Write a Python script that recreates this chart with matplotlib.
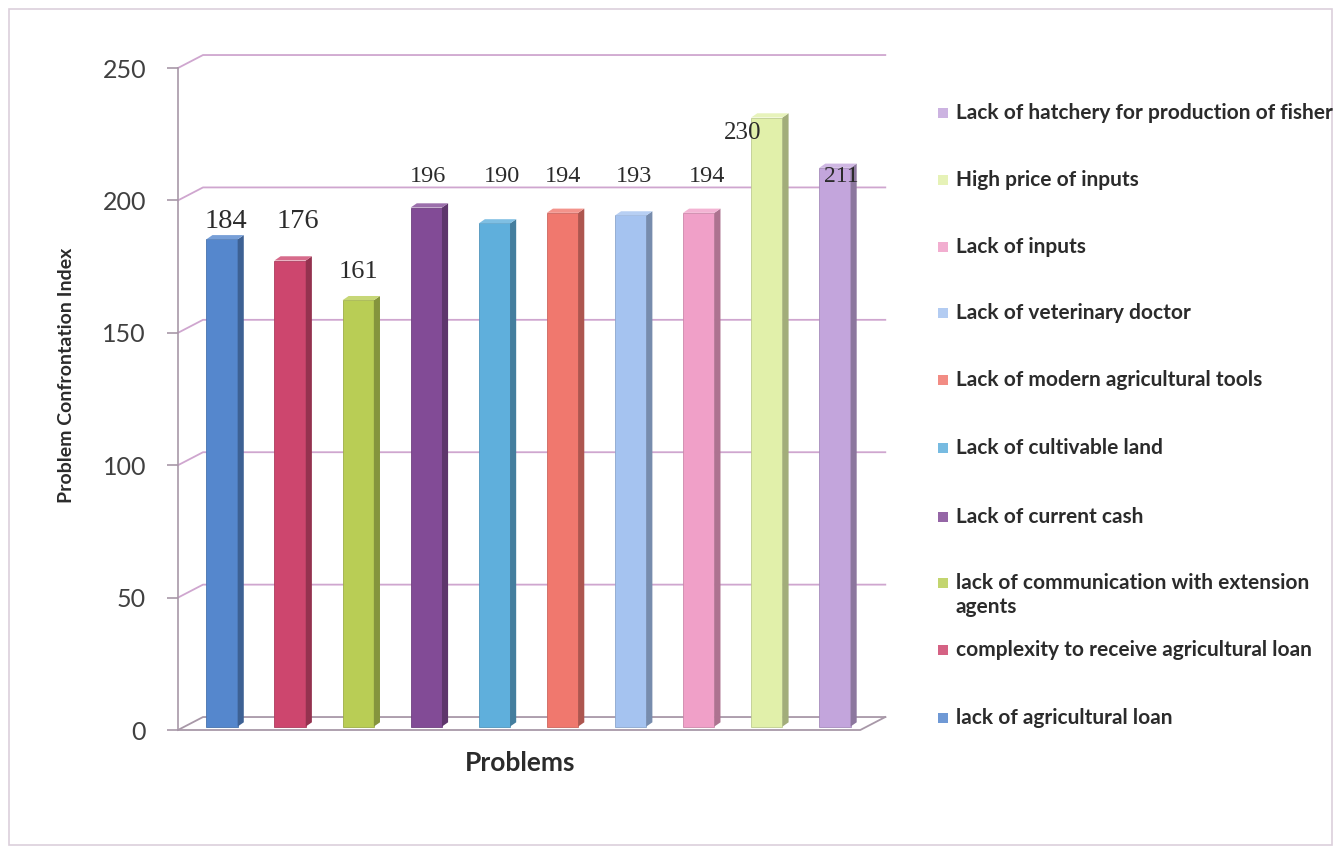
import matplotlib
matplotlib.use("Agg")
import matplotlib.pyplot as plt
from matplotlib.patches import Polygon, Rectangle

# data
problems = [
    "lack of agricultural loan",
    "complexity to receive agricultural loan",
    "lack of communication with extension\nagents",
    "Lack of current cash",
    "Lack of cultivable land",
    "Lack of modern agricultural tools",
    "Lack of veterinary doctor",
    "Lack of inputs",
    "High price of inputs",
    "Lack of hatchery for production of fisher",  # cut like the source
]
pci = [184, 176, 161, 196, 190, 194, 193, 194, 230, 211]
yticks = [0, 50, 100, 150, 200, 250]

# style
colors = ["#5587CD", "#CD466E", "#B9CD55", "#824B96", "#5FAFDC",
          "#F0786E", "#A5C3F0", "#F0A0C8", "#E1F0AA", "#C3A5DC"]
GRID = "#CFA6CF"
AXIS = "#A898A8"
INK = "#2b2b2b"
TICK_INK = "#404040"

# data-label placement as drawn in the source (x offset, y level, size)
label_dx = [0.06, 0.11, 0.0, 0.03, 0.11, 0.01, 0.05, 0.12, -0.35, 0.10]
label_y = [192, 192, 173, 209, 209, 209, 209, 209, 225.5, 209]
label_fs = [20.5, 20.5, 19, 17.5, 17.5, 17.5, 17.5, 17.5, 18, 17]

# fake-3D geometry (data units)
X_LEFT = -0.646          # front left axis
X_RIGHT_BACK = 9.74      # right end of back wall
WALL_DX, WALL_DY = 0.367, 4.9
BAR_W, BAR_DX, BAR_DY, LIFT = 0.46, 0.09, 1.6, 1.3


def darker(hex_color, f):
    r, g, b = (int(hex_color[i:i + 2], 16) for i in (1, 3, 5))
    return (r * f / 255, g * f / 255, b * f / 255)


def lighter(hex_color, f):
    r, g, b = (int(hex_color[i:i + 2], 16) / 255 for i in (1, 3, 5))
    return (r + (1 - r) * f, g + (1 - g) * f, b + (1 - b) * f)


W, H = 1335, 848
fig = plt.figure(figsize=(W / 100, H / 100), dpi=100)
fig.patch.set_facecolor("white")
fig.add_artist(Rectangle((9 / W, 3 / H), 1323 / W, 836 / H,
                         transform=fig.transFigure, fill=False,
                         edgecolor="#DCCFDC", lw=1.2))

left_px, right_px, top_px, bot_px = 178, 900, 60, 740
ax = fig.add_axes([left_px / W, (H - bot_px) / H,
                   (right_px - left_px) / W, (bot_px - top_px) / H])
ax.set_xlim(X_LEFT, X_LEFT + (right_px - left_px) / 68.1)
ax.set_ylim(-(bot_px - 730) / 2.648, (730 - top_px) / 2.648)
ax.patch.set_alpha(0)

for side in ("top", "right", "bottom"):
    ax.spines[side].set_visible(False)
ax.spines["left"].set_bounds(0, 250)
ax.spines["left"].set_color(AXIS)
ax.spines["left"].set_linewidth(1.2)
ax.set_xticks([])
ax.set_yticks(yticks)
ax.tick_params(axis="y", length=8, width=1.2, color=AXIS, pad=15,
               labelsize=18, labelcolor=TICK_INK)
for lab in ax.get_yticklabels():
    lab.set_fontfamily("Lato")

# back wall gridlines with the diagonal link to the front axis
for v in yticks:
    col = GRID if v > 0 else AXIS
    ax.plot([X_LEFT, X_LEFT + WALL_DX, X_RIGHT_BACK],
            [v, v + WALL_DY, v + WALL_DY], color=col, lw=1.3, zorder=1,
            clip_on=False)
# floor front edge
ax.plot([X_LEFT, X_RIGHT_BACK - WALL_DX, X_RIGHT_BACK],
        [0, 0, WALL_DY], color=AXIS, lw=1.3, zorder=1, clip_on=False)

x = list(range(len(pci)))
ax.bar(x, pci, width=BAR_W, bottom=LIFT, color=colors, zorder=3,
       edgecolor=[darker(c, 0.85) for c in colors], linewidth=0.6)
for xi, v, c in zip(x, pci, colors):
    r = xi + BAR_W / 2
    lft = xi - BAR_W / 2
    top = v + LIFT
    ax.add_patch(Polygon([(r, LIFT), (r + BAR_DX, LIFT + BAR_DY),
                          (r + BAR_DX, top + BAR_DY), (r, top)],
                         closed=True, facecolor=darker(c, 0.72),
                         edgecolor="none", zorder=3))
    ax.add_patch(Polygon([(lft, top), (r, top), (r + BAR_DX, top + BAR_DY),
                          (lft + BAR_DX, top + BAR_DY)],
                         closed=True, facecolor=lighter(c, 0.2),
                         edgecolor="none", zorder=3))

for xi, v, dx, ly, fs in zip(x, pci, label_dx, label_y, label_fs):
    ax.text(xi + dx, ly, str(v), ha="center", va="center", fontsize=fs,
            family="Liberation Serif", color=INK, zorder=5)

fig.text(67 / W, 1 - 375 / H, "Problem Confrontation Index", rotation=90,
         ha="center", va="center", fontsize=14, fontweight="bold",
         family="Lato", color=INK)
fig.text(520 / W, 1 - 763 / H, "Problems", ha="center", va="center",
         fontsize=19, fontweight="bold", family="Lato", color=INK)

# legend, top entry is the last bar
legend_y = [718, 650, 595, 517, 448, 380, 313, 247, 180, 113]
for name, c, py in zip(problems, colors, legend_y):
    first_line = py - 12 if "\n" in name else py
    fig.add_artist(Rectangle((938 / W, 1 - (first_line + 5) / H),
                             10 / W, 10 / H, transform=fig.transFigure,
                             facecolor=lighter(c, 0.15), edgecolor="none"))
    fig.text(956 / W, 1 - py / H, name, ha="left", va="center",
             fontsize=15, fontweight="bold", family="Lato", color=INK,
             linespacing=1.2)

fig.savefig("out.png", dpi=100)
